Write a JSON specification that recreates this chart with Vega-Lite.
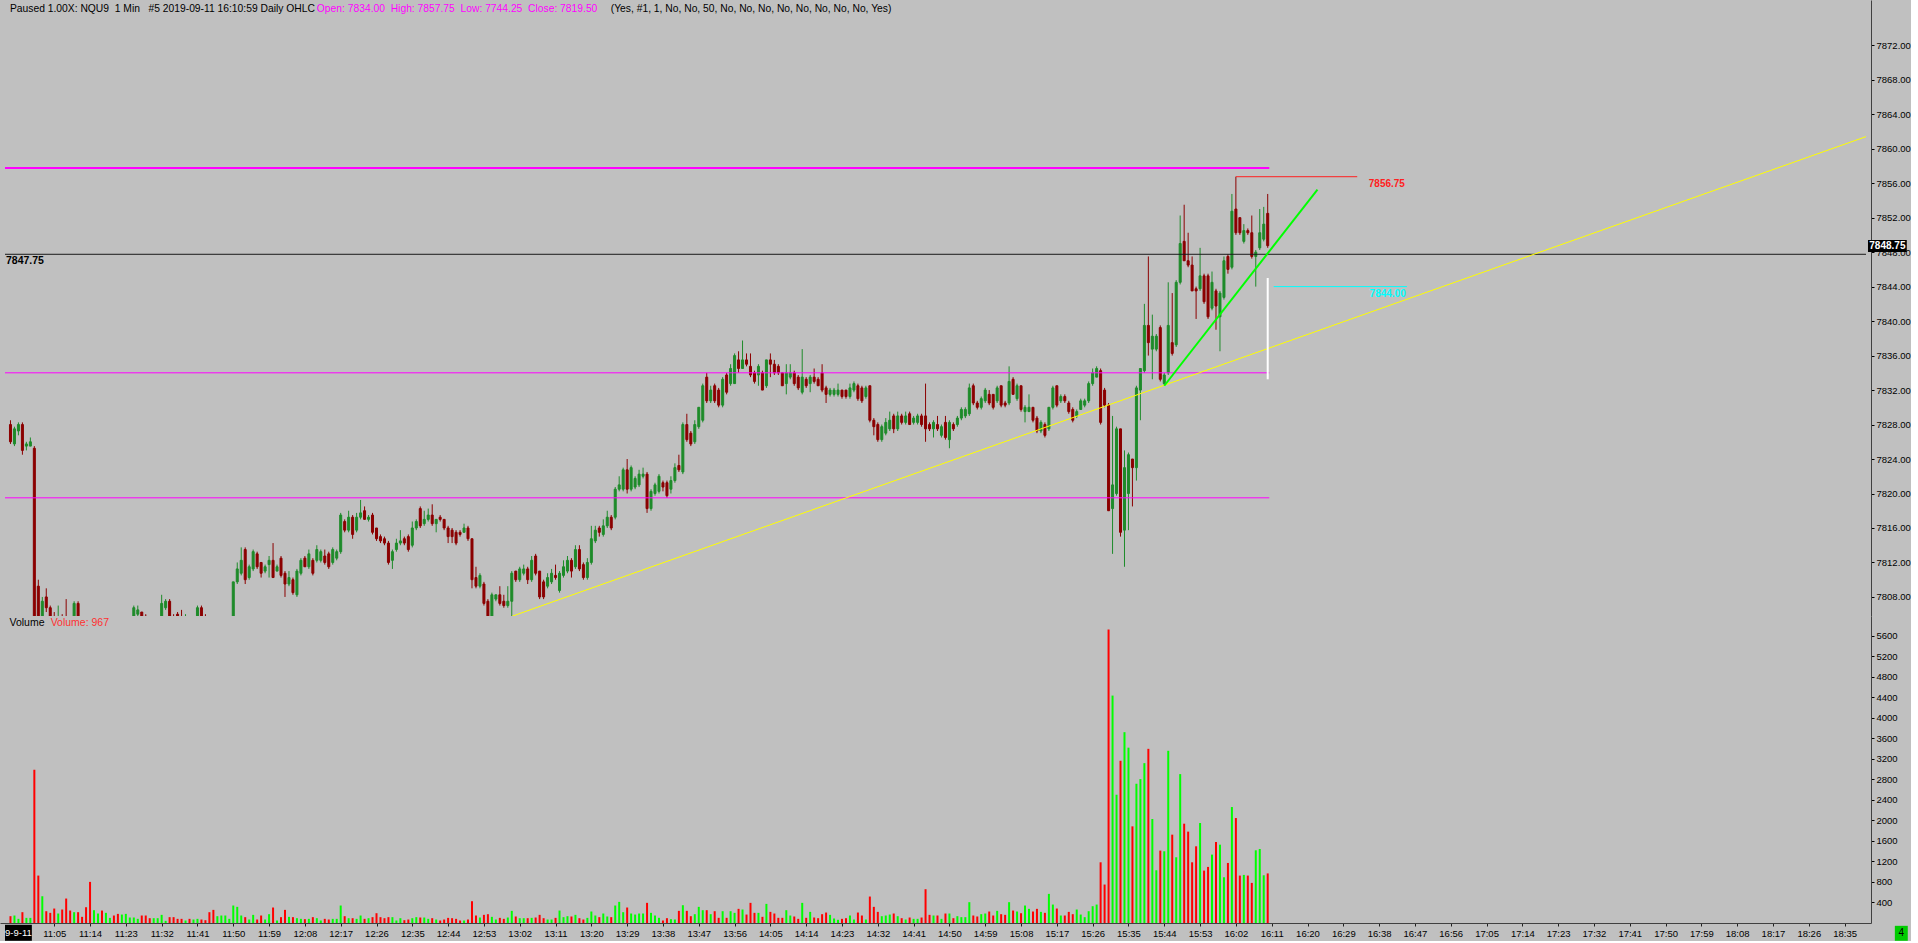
{
"$schema": "https://vega.github.io/schema/vega-lite/v6.json",
"background": "#C0C0C0",
"padding": 0,
"autosize": {"type": "pad"},
"bounds": "flush",
"spacing": 0,
"config": {"view": {"stroke": null}, "axis": {"grid": false, "title": null, "labelOverlap": false, "labelSeparation": 0}},
"datasets": {"bars": [
{"t":654,"o":7828,"h":7828.5,"l":7825.75,"c":7826,"v":133},
{"t":655,"o":7825.75,"h":7827.75,"l":7825.5,"c":7827.5,"v":146},
{"t":656,"o":7827.25,"h":7828.25,"l":7826.75,"c":7828,"v":81},
{"t":657,"o":7828,"h":7828.25,"l":7824.5,"c":7825,"v":211},
{"t":658,"o":7825.5,"h":7826,"l":7825,"c":7825.75,"v":100},
{"t":659,"o":7825.5,"h":7826.5,"l":7825.5,"c":7826,"v":100},
{"t":660,"o":7825.25,"h":7825.5,"l":7795,"c":7798,"v":2989},
{"t":661,"o":7809.25,"h":7810,"l":7797.5,"c":7799,"v":925},
{"t":662,"o":7799,"h":7808,"l":7798,"c":7807.5,"v":522},
{"t":663,"o":7808,"h":7809,"l":7806.25,"c":7806.75,"v":230},
{"t":664,"o":7806.75,"h":7807,"l":7803,"c":7804,"v":198},
{"t":665,"o":7804,"h":7806.25,"l":7801,"c":7802,"v":282},
{"t":666,"o":7802,"h":7807,"l":7801.5,"c":7804.5,"v":185},
{"t":667,"o":7804.5,"h":7806,"l":7802.5,"c":7803,"v":263},
{"t":668,"o":7805,"h":7807.75,"l":7801,"c":7801.5,"v":477},
{"t":669,"o":7802,"h":7804.5,"l":7800.5,"c":7801,"v":243},
{"t":670,"o":7801,"h":7807.5,"l":7800.75,"c":7807.25,"v":211},
{"t":671,"o":7807.25,"h":7807.5,"l":7803,"c":7803.75,"v":211},
{"t":672,"o":7803.75,"h":7804.5,"l":7801.5,"c":7802,"v":120},
{"t":673,"o":7802,"h":7803,"l":7800.5,"c":7801,"v":308},
{"t":674,"o":7801,"h":7802,"l":7798.5,"c":7799.5,"v":802},
{"t":675,"o":7799.5,"h":7802.5,"l":7799,"c":7802,"v":250},
{"t":676,"o":7802,"h":7804,"l":7801.5,"c":7803.5,"v":185},
{"t":677,"o":7803.5,"h":7804,"l":7801.5,"c":7802,"v":243},
{"t":678,"o":7802,"h":7804.5,"l":7801.75,"c":7804,"v":198},
{"t":679,"o":7804,"h":7805.25,"l":7803.5,"c":7805,"v":100},
{"t":680,"o":7805,"h":7805.5,"l":7803,"c":7803.5,"v":146},
{"t":681,"o":7803.5,"h":7804,"l":7801.5,"c":7802.25,"v":178},
{"t":682,"o":7802.25,"h":7804,"l":7802,"c":7803.75,"v":165},
{"t":683,"o":7803.75,"h":7805.25,"l":7803.5,"c":7805,"v":178},
{"t":684,"o":7805,"h":7805.75,"l":7804.5,"c":7805.5,"v":107},
{"t":685,"o":7804.75,"h":7807,"l":7804.5,"c":7806.75,"v":107},
{"t":686,"o":7806,"h":7807,"l":7805.75,"c":7806.5,"v":81},
{"t":687,"o":7806.25,"h":7806.25,"l":7804,"c":7805,"v":146},
{"t":688,"o":7805.75,"h":7806,"l":7803.5,"c":7804,"v":146},
{"t":689,"o":7804,"h":7805,"l":7802.5,"c":7803,"v":94},
{"t":690,"o":7803,"h":7805,"l":7802.75,"c":7804.5,"v":94},
{"t":691,"o":7804.5,"h":7805.75,"l":7804,"c":7805.5,"v":94},
{"t":692,"o":7805.5,"h":7808.25,"l":7805,"c":7807.25,"v":159},
{"t":693,"o":7806.75,"h":7807.75,"l":7806.5,"c":7807.5,"v":42},
{"t":694,"o":7807.5,"h":7807.75,"l":7804,"c":7804.5,"v":114},
{"t":695,"o":7804.5,"h":7806,"l":7803,"c":7803.5,"v":114},
{"t":696,"o":7806,"h":7806.25,"l":7803,"c":7804,"v":81},
{"t":697,"o":7805.5,"h":7806.5,"l":7803,"c":7803.5,"v":81},
{"t":698,"o":7803.5,"h":7806,"l":7803,"c":7805.5,"v":49},
{"t":699,"o":7805.5,"h":7805.75,"l":7803.5,"c":7804,"v":81},
{"t":700,"o":7804,"h":7805.5,"l":7803.5,"c":7805.25,"v":68},
{"t":701,"o":7805,"h":7807,"l":7804.5,"c":7806.75,"v":81},
{"t":702,"o":7806.75,"h":7807,"l":7804,"c":7804.5,"v":68},
{"t":703,"o":7805,"h":7806,"l":7803.5,"c":7804,"v":55},
{"t":704,"o":7804,"h":7805,"l":7802,"c":7802.5,"v":211},
{"t":705,"o":7802.5,"h":7803.5,"l":7800.5,"c":7801,"v":256},
{"t":706,"o":7801,"h":7803,"l":7800.5,"c":7802.5,"v":133},
{"t":707,"o":7802.5,"h":7804,"l":7802,"c":7803.5,"v":146},
{"t":708,"o":7803.5,"h":7805,"l":7803,"c":7804.5,"v":146},
{"t":709,"o":7804.5,"h":7805.5,"l":7804,"c":7805.25,"v":81},
{"t":710,"o":7805.25,"h":7809.75,"l":7804.75,"c":7809.75,"v":341},
{"t":711,"o":7809.75,"h":7812,"l":7809.5,"c":7811.25,"v":315},
{"t":712,"o":7810.75,"h":7813.75,"l":7810.5,"c":7812.25,"v":146},
{"t":713,"o":7813.5,"h":7813.75,"l":7809.5,"c":7810,"v":114},
{"t":714,"o":7810.25,"h":7811.75,"l":7810,"c":7811.5,"v":68},
{"t":715,"o":7811.25,"h":7813.5,"l":7811,"c":7813.25,"v":159},
{"t":716,"o":7813,"h":7813.25,"l":7811.25,"c":7811.5,"v":68},
{"t":717,"o":7812,"h":7812,"l":7810.25,"c":7810.75,"v":146},
{"t":718,"o":7811,"h":7811.75,"l":7810.75,"c":7811.5,"v":68},
{"t":719,"o":7811.75,"h":7812.75,"l":7810.25,"c":7812.25,"v":172},
{"t":720,"o":7812.25,"h":7814.25,"l":7810.25,"c":7810.25,"v":302},
{"t":721,"o":7811,"h":7811.75,"l":7811,"c":7811.5,"v":49},
{"t":722,"o":7812.5,"h":7812.75,"l":7810.25,"c":7810.5,"v":114},
{"t":723,"o":7810.75,"h":7811,"l":7808,"c":7809.5,"v":256},
{"t":724,"o":7809.5,"h":7811,"l":7809.25,"c":7810.25,"v":120},
{"t":725,"o":7810,"h":7810.25,"l":7808.25,"c":7808.5,"v":114},
{"t":726,"o":7808.25,"h":7811.25,"l":7808,"c":7811,"v":94},
{"t":727,"o":7810.75,"h":7812.5,"l":7810.5,"c":7812.25,"v":81},
{"t":728,"o":7812.5,"h":7812.75,"l":7811.5,"c":7811.5,"v":75},
{"t":729,"o":7811.5,"h":7813.5,"l":7811.25,"c":7813,"v":81},
{"t":730,"o":7812.25,"h":7812.5,"l":7810.5,"c":7810.75,"v":114},
{"t":731,"o":7812.25,"h":7814,"l":7812,"c":7813.5,"v":94},
{"t":732,"o":7812.25,"h":7813.5,"l":7812,"c":7813.25,"v":49},
{"t":733,"o":7812.75,"h":7813.5,"l":7811.75,"c":7812,"v":81},
{"t":734,"o":7813,"h":7813.25,"l":7811.25,"c":7811.5,"v":68},
{"t":735,"o":7812,"h":7813.75,"l":7811.75,"c":7813.5,"v":81},
{"t":736,"o":7812.5,"h":7813.5,"l":7812.25,"c":7813.25,"v":81},
{"t":737,"o":7813.25,"h":7817.75,"l":7813,"c":7817.5,"v":341},
{"t":738,"o":7816.75,"h":7817,"l":7815.5,"c":7815.75,"v":133},
{"t":739,"o":7815.75,"h":7818,"l":7815.5,"c":7817.25,"v":94},
{"t":740,"o":7817.25,"h":7817.5,"l":7814.75,"c":7815.25,"v":94},
{"t":741,"o":7815.75,"h":7817.75,"l":7815.5,"c":7817.25,"v":81},
{"t":742,"o":7817.25,"h":7819.25,"l":7817,"c":7817.75,"v":146},
{"t":743,"o":7818,"h":7818.5,"l":7817,"c":7817,"v":81},
{"t":744,"o":7817,"h":7817.5,"l":7816.75,"c":7817.25,"v":94},
{"t":745,"o":7817.5,"h":7817.75,"l":7815.25,"c":7815.5,"v":114},
{"t":746,"o":7816,"h":7816,"l":7814.5,"c":7814.75,"v":191},
{"t":747,"o":7815,"h":7815.25,"l":7814.25,"c":7814.5,"v":114},
{"t":748,"o":7814.75,"h":7815,"l":7814,"c":7814.25,"v":94},
{"t":749,"o":7814.25,"h":7814.5,"l":7811.75,"c":7812,"v":114},
{"t":750,"o":7812.25,"h":7813.5,"l":7811.25,"c":7813.25,"v":114},
{"t":751,"o":7813.5,"h":7814.75,"l":7813.25,"c":7814.25,"v":49},
{"t":752,"o":7814.25,"h":7815.75,"l":7814,"c":7814.5,"v":94},
{"t":753,"o":7814.75,"h":7815,"l":7814,"c":7814.25,"v":55},
{"t":754,"o":7815,"h":7815.25,"l":7813.25,"c":7813.5,"v":68},
{"t":755,"o":7814,"h":7816.75,"l":7813.75,"c":7816,"v":94},
{"t":756,"o":7816,"h":7817,"l":7815.75,"c":7816.75,"v":114},
{"t":757,"o":7818.25,"h":7818.5,"l":7816,"c":7816.25,"v":107},
{"t":758,"o":7816.5,"h":7818,"l":7816.25,"c":7817,"v":107},
{"t":759,"o":7817,"h":7818.25,"l":7816.75,"c":7817.5,"v":81},
{"t":760,"o":7817.5,"h":7818.75,"l":7816.25,"c":7816.5,"v":94},
{"t":761,"o":7816.5,"h":7817,"l":7815.5,"c":7817,"v":68},
{"t":762,"o":7817.25,"h":7817.5,"l":7816.75,"c":7817,"v":49},
{"t":763,"o":7817,"h":7817,"l":7815.75,"c":7816,"v":68},
{"t":764,"o":7816,"h":7816.25,"l":7814.25,"c":7815,"v":100},
{"t":765,"o":7815.75,"h":7816,"l":7814.25,"c":7815,"v":94},
{"t":766,"o":7815.5,"h":7815.75,"l":7814,"c":7814.25,"v":81},
{"t":767,"o":7815.5,"h":7815.75,"l":7815,"c":7815.25,"v":49},
{"t":768,"o":7815.5,"h":7816.5,"l":7815.5,"c":7816,"v":49},
{"t":769,"o":7816,"h":7816.25,"l":7814.5,"c":7814.75,"v":68},
{"t":770,"o":7814.75,"h":7814.75,"l":7809,"c":7810,"v":425},
{"t":771,"o":7810.25,"h":7811.5,"l":7809,"c":7809.25,"v":146},
{"t":772,"o":7809.25,"h":7810.75,"l":7809,"c":7810.5,"v":107},
{"t":773,"o":7809.5,"h":7809.75,"l":7807,"c":7807.25,"v":159},
{"t":774,"o":7807.5,"h":7807.75,"l":7805.5,"c":7805.75,"v":172},
{"t":775,"o":7805.75,"h":7808.5,"l":7805.5,"c":7808.25,"v":120},
{"t":776,"o":7807.75,"h":7808.25,"l":7807.5,"c":7808.25,"v":68},
{"t":777,"o":7808.25,"h":7809.25,"l":7807,"c":7807.25,"v":100},
{"t":778,"o":7807.5,"h":7808.25,"l":7806.75,"c":7807,"v":81},
{"t":779,"o":7807,"h":7809.25,"l":7806.75,"c":7807.5,"v":107},
{"t":780,"o":7807.5,"h":7811,"l":7805.75,"c":7810.75,"v":237},
{"t":781,"o":7811,"h":7811,"l":7809.75,"c":7810,"v":127},
{"t":782,"o":7810,"h":7811.5,"l":7809.75,"c":7811.25,"v":94},
{"t":783,"o":7810.75,"h":7811.75,"l":7810.5,"c":7811.25,"v":94},
{"t":784,"o":7811.25,"h":7811.5,"l":7809.5,"c":7810,"v":94},
{"t":785,"o":7810,"h":7812.75,"l":7809.75,"c":7812.25,"v":100},
{"t":786,"o":7812.75,"h":7813,"l":7810.5,"c":7810.75,"v":107},
{"t":787,"o":7811,"h":7811,"l":7807.75,"c":7808,"v":159},
{"t":788,"o":7809.75,"h":7810,"l":7807.75,"c":7808,"v":94},
{"t":789,"o":7809.25,"h":7810.75,"l":7809,"c":7810.25,"v":68},
{"t":790,"o":7809.75,"h":7811.25,"l":7809.5,"c":7810.75,"v":68},
{"t":791,"o":7810.5,"h":7811.75,"l":7810,"c":7810.25,"v":100},
{"t":792,"o":7808.75,"h":7811,"l":7808.5,"c":7810.75,"v":243},
{"t":793,"o":7810.5,"h":7812.25,"l":7810.25,"c":7811.5,"v":114},
{"t":794,"o":7811,"h":7812.75,"l":7810.75,"c":7812.25,"v":133},
{"t":795,"o":7812.25,"h":7812.5,"l":7810.25,"c":7811,"v":127},
{"t":796,"o":7811.5,"h":7814,"l":7811.25,"c":7813.5,"v":159},
{"t":797,"o":7813.5,"h":7814,"l":7811,"c":7811.25,"v":94},
{"t":798,"o":7811.75,"h":7812,"l":7810,"c":7810.25,"v":68},
{"t":799,"o":7810.25,"h":7812.5,"l":7810,"c":7812,"v":100},
{"t":800,"o":7812,"h":7816.25,"l":7811.75,"c":7814.75,"v":224},
{"t":801,"o":7814.5,"h":7816.25,"l":7814.25,"c":7815.75,"v":146},
{"t":802,"o":7816,"h":7816.25,"l":7815,"c":7815.5,"v":114},
{"t":803,"o":7815.25,"h":7817,"l":7815,"c":7816.25,"v":185},
{"t":804,"o":7816.25,"h":7818,"l":7816,"c":7817.25,"v":127},
{"t":805,"o":7817.25,"h":7817.5,"l":7815.75,"c":7816,"v":114},
{"t":806,"o":7817.25,"h":7820.75,"l":7817,"c":7820.5,"v":341},
{"t":807,"o":7820.5,"h":7822,"l":7820.25,"c":7821,"v":412},
{"t":808,"o":7820.5,"h":7823,"l":7820.25,"c":7822.75,"v":211},
{"t":809,"o":7822.75,"h":7824,"l":7820,"c":7820.5,"v":302},
{"t":810,"o":7820.5,"h":7823.25,"l":7820.25,"c":7823,"v":185},
{"t":811,"o":7820.75,"h":7822,"l":7820.5,"c":7821.75,"v":165},
{"t":812,"o":7821,"h":7822.75,"l":7820.75,"c":7822.25,"v":185},
{"t":813,"o":7822,"h":7823,"l":7821.75,"c":7822.25,"v":185},
{"t":814,"o":7822.25,"h":7822.5,"l":7817.75,"c":7818.25,"v":393},
{"t":815,"o":7818.25,"h":7820.5,"l":7818,"c":7820.25,"v":198},
{"t":816,"o":7820,"h":7821.25,"l":7819.75,"c":7821,"v":146},
{"t":817,"o":7820.25,"h":7822.25,"l":7820,"c":7822,"v":101},
{"t":818,"o":7821.25,"h":7821.5,"l":7820.25,"c":7820.75,"v":49},
{"t":819,"o":7821.25,"h":7821.5,"l":7819.5,"c":7819.75,"v":94},
{"t":820,"o":7820.5,"h":7822,"l":7820,"c":7821.5,"v":75},
{"t":821,"o":7821.5,"h":7823.5,"l":7821.25,"c":7823,"v":68},
{"t":822,"o":7823.25,"h":7824.5,"l":7822.5,"c":7822.75,"v":237},
{"t":823,"o":7822.5,"h":7828.25,"l":7822.25,"c":7828,"v":347},
{"t":824,"o":7828,"h":7829.25,"l":7826,"c":7826.25,"v":237},
{"t":825,"o":7827,"h":7827.25,"l":7825.5,"c":7825.75,"v":133},
{"t":826,"o":7826,"h":7828.5,"l":7825.75,"c":7828,"v":172},
{"t":827,"o":7827.75,"h":7830,"l":7827.5,"c":7830,"v":315},
{"t":828,"o":7828.5,"h":7832.75,"l":7828.25,"c":7832.5,"v":250},
{"t":829,"o":7833.5,"h":7834,"l":7830.5,"c":7830.75,"v":250},
{"t":830,"o":7830.75,"h":7832.5,"l":7830.5,"c":7832,"v":172},
{"t":831,"o":7832.5,"h":7832.75,"l":7830.5,"c":7830.75,"v":230},
{"t":832,"o":7832,"h":7832.25,"l":7830,"c":7830.25,"v":101},
{"t":833,"o":7830.25,"h":7833.5,"l":7830,"c":7833.25,"v":230},
{"t":834,"o":7833.75,"h":7834,"l":7831.5,"c":7831.75,"v":101},
{"t":835,"o":7832.75,"h":7835,"l":7832.5,"c":7834.5,"v":230},
{"t":836,"o":7832.75,"h":7836.25,"l":7832.75,"c":7836,"v":198},
{"t":837,"o":7835.5,"h":7836.5,"l":7834,"c":7834.5,"v":276},
{"t":838,"o":7834.5,"h":7837.75,"l":7834.5,"c":7835.5,"v":263},
{"t":839,"o":7835.5,"h":7836.25,"l":7834.75,"c":7835,"v":165},
{"t":840,"o":7834.75,"h":7836.25,"l":7833.5,"c":7833.75,"v":393},
{"t":841,"o":7834,"h":7834.25,"l":7832.75,"c":7833,"v":198},
{"t":842,"o":7833.75,"h":7835,"l":7832.5,"c":7834.75,"v":198},
{"t":843,"o":7834,"h":7834.25,"l":7832,"c":7832,"v":120},
{"t":844,"o":7832.5,"h":7835.5,"l":7832.25,"c":7835.5,"v":373},
{"t":845,"o":7835.5,"h":7836.25,"l":7833.5,"c":7835,"v":217},
{"t":846,"o":7835,"h":7835.5,"l":7833.75,"c":7834,"v":185},
{"t":847,"o":7834.75,"h":7835,"l":7833.75,"c":7834,"v":101},
{"t":848,"o":7834,"h":7834,"l":7832.5,"c":7832.5,"v":101},
{"t":849,"o":7832.75,"h":7835,"l":7831.5,"c":7834,"v":250},
{"t":850,"o":7833.5,"h":7835,"l":7833.25,"c":7834,"v":146},
{"t":851,"o":7834,"h":7834.25,"l":7832.5,"c":7832.75,"v":127},
{"t":852,"o":7833.5,"h":7833.75,"l":7832,"c":7832.25,"v":81},
{"t":853,"o":7831.75,"h":7836.75,"l":7831.5,"c":7833.5,"v":393},
{"t":854,"o":7833.25,"h":7833.5,"l":7832.25,"c":7832.5,"v":101},
{"t":855,"o":7832.75,"h":7833.75,"l":7831.75,"c":7833.5,"v":217},
{"t":856,"o":7833.5,"h":7834.5,"l":7832.75,"c":7833,"v":107},
{"t":857,"o":7833.25,"h":7833.5,"l":7832.5,"c":7832.5,"v":94},
{"t":858,"o":7834,"h":7835,"l":7831.75,"c":7832,"v":172},
{"t":859,"o":7832.25,"h":7832.5,"l":7830.5,"c":7831.5,"v":204},
{"t":860,"o":7831.5,"h":7832.25,"l":7831.25,"c":7832,"v":159},
{"t":861,"o":7831.5,"h":7832.25,"l":7831.25,"c":7832,"v":88},
{"t":862,"o":7831.5,"h":7832.75,"l":7831.25,"c":7832,"v":62},
{"t":863,"o":7832,"h":7832,"l":7831,"c":7831.25,"v":81},
{"t":864,"o":7832,"h":7832,"l":7831,"c":7831.25,"v":94},
{"t":865,"o":7831.25,"h":7832.75,"l":7831,"c":7832.25,"v":146},
{"t":866,"o":7832,"h":7833,"l":7831.75,"c":7832.75,"v":68},
{"t":867,"o":7832.5,"h":7832.75,"l":7830.75,"c":7831,"v":204},
{"t":868,"o":7832.25,"h":7832.5,"l":7830.5,"c":7830.75,"v":146},
{"t":869,"o":7831.25,"h":7832.5,"l":7831,"c":7832.25,"v":68},
{"t":870,"o":7832.5,"h":7832.5,"l":7828.25,"c":7828.5,"v":516},
{"t":871,"o":7828.5,"h":7828.75,"l":7826.75,"c":7827.75,"v":315},
{"t":872,"o":7828,"h":7828.25,"l":7826,"c":7826.25,"v":217},
{"t":873,"o":7826.25,"h":7828,"l":7826,"c":7827.75,"v":133},
{"t":874,"o":7827,"h":7828.75,"l":7826.75,"c":7828.25,"v":146},
{"t":875,"o":7827.5,"h":7829.5,"l":7827.25,"c":7828.5,"v":165},
{"t":876,"o":7829,"h":7829.25,"l":7827,"c":7827.5,"v":185},
{"t":877,"o":7827.5,"h":7829.5,"l":7827.25,"c":7829,"v":133},
{"t":878,"o":7829,"h":7829.25,"l":7828,"c":7828.25,"v":94},
{"t":879,"o":7828.25,"h":7829.5,"l":7828,"c":7829,"v":68},
{"t":880,"o":7829.25,"h":7829.5,"l":7828,"c":7828,"v":107},
{"t":881,"o":7828.25,"h":7829,"l":7828,"c":7828.75,"v":81},
{"t":882,"o":7828.25,"h":7829.25,"l":7828,"c":7829,"v":81},
{"t":883,"o":7829,"h":7829.25,"l":7827.75,"c":7828,"v":107},
{"t":884,"o":7829,"h":7832.75,"l":7826,"c":7827.5,"v":659},
{"t":885,"o":7828,"h":7828.25,"l":7827.25,"c":7827.5,"v":159},
{"t":886,"o":7827.5,"h":7828.5,"l":7826.5,"c":7828.25,"v":146},
{"t":887,"o":7828,"h":7829,"l":7827.25,"c":7827.5,"v":146},
{"t":888,"o":7826.75,"h":7828,"l":7826.5,"c":7827.75,"v":81},
{"t":889,"o":7828.25,"h":7829,"l":7826.25,"c":7826.5,"v":185},
{"t":890,"o":7826.25,"h":7828.5,"l":7825.25,"c":7828.25,"v":185},
{"t":891,"o":7828,"h":7828.25,"l":7827.25,"c":7827.5,"v":94},
{"t":892,"o":7828,"h":7829,"l":7827.75,"c":7828.75,"v":133},
{"t":893,"o":7828.75,"h":7830,"l":7828.5,"c":7829.75,"v":114},
{"t":894,"o":7829,"h":7830,"l":7828.75,"c":7829.75,"v":114},
{"t":895,"o":7829.25,"h":7832.75,"l":7829,"c":7832.25,"v":406},
{"t":896,"o":7832.5,"h":7832.75,"l":7830.25,"c":7830.5,"v":146},
{"t":897,"o":7830.5,"h":7830.75,"l":7829.75,"c":7830,"v":127},
{"t":898,"o":7830,"h":7831.25,"l":7829.75,"c":7831,"v":172},
{"t":899,"o":7830.75,"h":7832.25,"l":7830.5,"c":7832,"v":185},
{"t":900,"o":7831.5,"h":7832,"l":7830.25,"c":7830.5,"v":224},
{"t":901,"o":7831.5,"h":7831.5,"l":7829.75,"c":7830,"v":146},
{"t":902,"o":7830.75,"h":7832.5,"l":7830.5,"c":7832.25,"v":237},
{"t":903,"o":7832.5,"h":7832.5,"l":7830,"c":7830.25,"v":172},
{"t":904,"o":7830.5,"h":7830.75,"l":7830,"c":7830.25,"v":159},
{"t":905,"o":7830.5,"h":7834.75,"l":7830.25,"c":7833,"v":406},
{"t":906,"o":7833.25,"h":7833.5,"l":7831.5,"c":7831.5,"v":243},
{"t":907,"o":7831,"h":7832.75,"l":7830.75,"c":7832.5,"v":224},
{"t":908,"o":7832.5,"h":7832.5,"l":7829.5,"c":7829.75,"v":191},
{"t":909,"o":7829.5,"h":7830.25,"l":7828.25,"c":7830,"v":341},
{"t":910,"o":7829.5,"h":7831.5,"l":7829.5,"c":7830,"v":276},
{"t":911,"o":7830,"h":7830,"l":7828.25,"c":7828.5,"v":224},
{"t":912,"o":7828.75,"h":7829,"l":7827,"c":7827.25,"v":276},
{"t":913,"o":7827.25,"h":7828.5,"l":7827,"c":7828.25,"v":217},
{"t":914,"o":7828,"h":7828.25,"l":7826.5,"c":7826.75,"v":198},
{"t":915,"o":7827.5,"h":7830,"l":7827.25,"c":7830,"v":568},
{"t":916,"o":7830,"h":7832.5,"l":7829.75,"c":7832.25,"v":360},
{"t":917,"o":7832.5,"h":7832.5,"l":7830,"c":7830.25,"v":282},
{"t":918,"o":7830.75,"h":7831.5,"l":7830.5,"c":7831.25,"v":146},
{"t":919,"o":7831.25,"h":7831.5,"l":7830.5,"c":7830.75,"v":146},
{"t":920,"o":7830.5,"h":7830.75,"l":7829.25,"c":7829.5,"v":217},
{"t":921,"o":7829.75,"h":7830,"l":7828.25,"c":7828.5,"v":172},
{"t":922,"o":7829,"h":7829.75,"l":7828.75,"c":7829.5,"v":263},
{"t":923,"o":7829.75,"h":7831,"l":7829.75,"c":7830.75,"v":165},
{"t":924,"o":7830.25,"h":7831,"l":7830,"c":7830.75,"v":114},
{"t":925,"o":7830.75,"h":7833,"l":7830.5,"c":7832.75,"v":230},
{"t":926,"o":7832.75,"h":7834.5,"l":7832.5,"c":7834,"v":328},
{"t":927,"o":7833.5,"h":7834.75,"l":7833.5,"c":7834.5,"v":360},
{"t":928,"o":7834.25,"h":7834.5,"l":7828,"c":7828.25,"v":1184},
{"t":929,"o":7832,"h":7832.25,"l":7830,"c":7830.25,"v":750},
{"t":930,"o":7830.25,"h":7830.5,"l":7818,"c":7818,"v":5727},
{"t":931,"o":7818.25,"h":7829,"l":7813,"c":7821,"v":4436},
{"t":932,"o":7820,"h":7827.75,"l":7819.75,"c":7827.5,"v":2502},
{"t":933,"o":7827.5,"h":7827.5,"l":7815,"c":7815.5,"v":3164},
{"t":934,"o":7815.75,"h":7825,"l":7811.5,"c":7823,"v":3722},
{"t":935,"o":7820,"h":7824.75,"l":7815.75,"c":7824.5,"v":3420},
{"t":936,"o":7824,"h":7824,"l":7818.5,"c":7823,"v":1885},
{"t":937,"o":7823,"h":7832.5,"l":7821.5,"c":7832.25,"v":2716},
{"t":938,"o":7832,"h":7834.5,"l":7828.5,"c":7834.5,"v":2807},
{"t":939,"o":7834.25,"h":7842,"l":7834,"c":7839.5,"v":3118},
{"t":940,"o":7839.5,"h":7847.5,"l":7836,"c":7837.5,"v":3397},
{"t":941,"o":7836.75,"h":7840.75,"l":7833.25,"c":7838.25,"v":2028},
{"t":942,"o":7836.75,"h":7838.5,"l":7836.5,"c":7838.25,"v":1029},
{"t":943,"o":7839.25,"h":7839.5,"l":7833,"c":7833.25,"v":1412},
{"t":944,"o":7832.75,"h":7834,"l":7832.5,"c":7833.75,"v":1399},
{"t":945,"o":7834,"h":7844.5,"l":7833.75,"c":7839.5,"v":3359},
{"t":946,"o":7837.5,"h":7843.25,"l":7836,"c":7836.25,"v":1723},
{"t":947,"o":7837.25,"h":7844.75,"l":7837,"c":7844.5,"v":1282},
{"t":948,"o":7844.5,"h":7852.25,"l":7844.25,"c":7849,"v":2904},
{"t":949,"o":7849.25,"h":7853.5,"l":7847,"c":7847,"v":1937},
{"t":950,"o":7847,"h":7850.25,"l":7846.25,"c":7846.5,"v":1782},
{"t":951,"o":7846.5,"h":7847.5,"l":7843.5,"c":7843.5,"v":1184},
{"t":952,"o":7843.75,"h":7844,"l":7840.25,"c":7843.5,"v":1496},
{"t":953,"o":7843.75,"h":7848.5,"l":7843.5,"c":7845.25,"v":1950},
{"t":954,"o":7845.25,"h":7845.5,"l":7842,"c":7842.25,"v":1022},
{"t":955,"o":7845.25,"h":7845.5,"l":7840.25,"c":7840.5,"v":1094},
{"t":956,"o":7841.5,"h":7845.75,"l":7841.25,"c":7844.5,"v":1334},
{"t":957,"o":7843.5,"h":7843.75,"l":7839,"c":7841.75,"v":1580},
{"t":958,"o":7840.5,"h":7843.5,"l":7836.5,"c":7843.25,"v":1528},
{"t":959,"o":7842.75,"h":7847.5,"l":7842.5,"c":7847,"v":892},
{"t":960,"o":7847.5,"h":7847.75,"l":7845.5,"c":7846,"v":1171},
{"t":961,"o":7846.25,"h":7854.75,"l":7846,"c":7852.75,"v":2262},
{"t":962,"o":7853,"h":7856.75,"l":7850,"c":7850.25,"v":2047},
{"t":963,"o":7852,"h":7852,"l":7850,"c":7850.25,"v":925},
{"t":964,"o":7849.25,"h":7851.25,"l":7849,"c":7850.5,"v":938},
{"t":965,"o":7850.5,"h":7850.75,"l":7850,"c":7850.25,"v":925},
{"t":966,"o":7850.25,"h":7852.25,"l":7847.25,"c":7847.5,"v":782},
{"t":967,"o":7847.5,"h":7848.25,"l":7844,"c":7848,"v":1418},
{"t":968,"o":7848.5,"h":7853,"l":7848.25,"c":7850.25,"v":1444},
{"t":969,"o":7849.5,"h":7853.25,"l":7849.25,"c":7851.25,"v":931},
{"t":970,"o":7852.5,"h":7854.75,"l":7848.5,"c":7848.75,"v":967}
]},
"vconcat": [
{
"width": 1871, "height": 616,
"layer": [
{"data": {"name": "bars"}, "mark": {"type": "rule", "clip": true, "strokeWidth": 1},
 "encoding": {
  "x": {"field": "t", "type": "quantitative", "scale": {"domain": [652.625, 1120.375], "nice": false, "zero": false}, "axis": null},
  "y": {"field": "l", "type": "quantitative", "title": null, "scale": {"domain": [7805.79, 7877.25], "nice": false, "zero": false},
        "axis": {"orient": "right", "values": [7808,7812,7816,7820,7824,7828,7832,7836,7840,7844,7848,7852,7856,7860,7864,7868,7872], "tickCount": 200, "format": ".2f", "labelFont": "Liberation Sans", "labelFontSize": 9.5, "labelColor": "#000000", "tickColor": "#000000", "tickSize": 3, "labelPadding": 2, "domainColor": "#404040", "labelOverlap": false, "labelFlush": false, "labelBound": false}},
  "y2": {"field": "h"},
  "color": {"condition": {"test": "datum.c < datum.o", "value": "#8B0000"}, "value": "#1E8B2A"}
 }},
{"data": {"name": "bars"}, "mark": {"type": "bar", "clip": true, "width": 2, "strokeWidth": 1},
 "encoding": {
  "x": {"field": "t", "type": "quantitative", "axis": null},
  "y": {"field": "o", "type": "quantitative", "title": null},
  "y2": {"field": "c"},
  "color": {"condition": {"test": "datum.c < datum.o", "value": "#8B0000"}, "value": "#1E8B2A"},
  "stroke": {"condition": {"test": "datum.c < datum.o", "value": "#8B0000"}, "value": "#1E8B2A"}
 }},
{"data": {"values": [{"t1": 652.625, "t2": 970.4, "p": 7834}, {"t1": 652.625, "t2": 970.4, "p": 7819.5}]},
 "mark": {"type": "rule", "color": "#FF00FF", "strokeWidth": 1},
 "encoding": {"x": {"field": "t1", "type": "quantitative", "axis": null}, "x2": {"field": "t2"}, "y": {"field": "p", "type": "quantitative", "title": null}}},
{"data": {"values": [{"t1": 652.625, "t2": 970.4, "p": 7857.75}]},
 "mark": {"type": "rule", "color": "#FF00FF", "strokeWidth": 2},
 "encoding": {"x": {"field": "t1", "type": "quantitative", "axis": null}, "x2": {"field": "t2"}, "y": {"field": "p", "type": "quantitative", "title": null}}},
{"data": {"values": [{"t1": 652.625, "t2": 1120.375, "p": 7847.75}]},
 "mark": {"type": "rule", "color": "#1A1A1A", "strokeWidth": 1},
 "encoding": {"x": {"field": "t1", "type": "quantitative", "axis": null}, "x2": {"field": "t2"}, "y": {"field": "p", "type": "quantitative", "title": null}}},
{"data": {"values": [{"t1": 780, "p1": 7805.75, "t2": 1120.375, "p2": 7861.4}]},
 "mark": {"type": "rule", "color": "#FFFF00", "strokeWidth": 1, "clip": true},
 "encoding": {"x": {"field": "t1", "type": "quantitative", "axis": null}, "x2": {"field": "t2"}, "y": {"field": "p1", "type": "quantitative", "title": null}, "y2": {"field": "p2"}}},
{"data": {"values": [{"t1": 944, "p1": 7832.5, "t2": 982.5, "p2": 7855.25}]},
 "mark": {"type": "rule", "color": "#00FF00", "strokeWidth": 2},
 "encoding": {"x": {"field": "t1", "type": "quantitative", "axis": null}, "x2": {"field": "t2"}, "y": {"field": "p1", "type": "quantitative", "title": null}, "y2": {"field": "p2"}}},
{"data": {"values": [{"t1": 962, "t2": 992.5, "p": 7856.75}]},
 "mark": {"type": "rule", "color": "#FF2020", "strokeWidth": 1},
 "encoding": {"x": {"field": "t1", "type": "quantitative", "axis": null}, "x2": {"field": "t2"}, "y": {"field": "p", "type": "quantitative", "title": null}}},
{"data": {"values": [{"t1": 971.5, "t2": 1005, "p": 7844}]},
 "mark": {"type": "rule", "color": "#00FFFF", "strokeWidth": 1},
 "encoding": {"x": {"field": "t1", "type": "quantitative", "axis": null}, "x2": {"field": "t2"}, "y": {"field": "p", "type": "quantitative", "title": null}}},
{"data": {"values": [{"t": 970, "p1": 7833.25, "p2": 7845}]},
 "mark": {"type": "rule", "color": "#FFFFFF", "strokeWidth": 2},
 "encoding": {"x": {"field": "t", "type": "quantitative", "axis": null}, "y": {"field": "p1", "type": "quantitative", "title": null}, "y2": {"field": "p2"}}},
{"data": {"values": [{"t": 995.4, "p": 7856.75, "label": "7856.75"}]},
 "mark": {"type": "text", "align": "left", "baseline": "middle", "dy": 7, "font": "Liberation Sans", "fontSize": 10, "fontWeight": "bold", "color": "#FF2020"},
 "encoding": {"x": {"field": "t", "type": "quantitative", "axis": null}, "y": {"field": "p", "type": "quantitative", "title": null}, "text": {"field": "label"}}},
{"data": {"values": [{"t": 995.6, "p": 7844, "label": "7844.00"}]},
 "mark": {"type": "text", "align": "left", "baseline": "middle", "dy": 7, "font": "Liberation Sans", "fontSize": 10, "fontWeight": "bold", "color": "#00FFFF"},
 "encoding": {"x": {"field": "t", "type": "quantitative", "axis": null}, "y": {"field": "p", "type": "quantitative", "title": null}, "text": {"field": "label"}}},
{"data": {"values": [{"t": 652.875, "p": 7847.75, "label": "7847.75"}]},
 "mark": {"type": "text", "align": "left", "baseline": "middle", "dy": 7, "font": "Liberation Sans", "fontSize": 10.5, "fontWeight": "bold", "color": "#000000"},
 "encoding": {"x": {"field": "t", "type": "quantitative", "axis": null}, "y": {"field": "p", "type": "quantitative", "title": null}, "text": {"field": "label"}}},
{"data": {"values": [{"t": 653.875, "p": 7876.25, "label": "Paused 1.00X: NQU9\u00a0\u00a01 Min\u00a0\u00a0\u00a0#5 2019-09-11 16:10:59 Daily OHLC"}, {"t": 804.875, "p": 7876.25, "label": "(Yes, #1, 1, No, No, 50, No, No, No, No, No, No, No, No, Yes)"}]},
 "mark": {"type": "text", "align": "left", "baseline": "middle", "font": "Liberation Sans", "fontSize": 10.3, "color": "#000000"},
 "encoding": {"x": {"field": "t", "type": "quantitative", "axis": null}, "y": {"field": "p", "type": "quantitative", "title": null}, "text": {"field": "label"}}},
{"data": {"values": [{"t": 731.0, "p": 7876.25, "label": "Open: 7834.00\u00a0\u00a0High: 7857.75\u00a0\u00a0Low: 7744.25\u00a0\u00a0Close: 7819.50"}]},
 "mark": {"type": "text", "align": "left", "baseline": "middle", "font": "Liberation Sans", "fontSize": 10.3, "color": "#FF00FF"},
 "encoding": {"x": {"field": "t", "type": "quantitative", "axis": null}, "y": {"field": "p", "type": "quantitative", "title": null}, "text": {"field": "label"}}},
{"data": {"values": [{"t1": 1120.875, "t2": 1130.625, "p1": 7848.02, "p2": 7849.41}]},
 "mark": {"type": "rect", "color": "#000000"},
 "encoding": {"x": {"field": "t1", "type": "quantitative", "axis": null}, "x2": {"field": "t2"}, "y": {"field": "p1", "type": "quantitative", "title": null}, "y2": {"field": "p2"}}},
{"data": {"values": [{"t": 1125.75, "p": 7848.72, "label": "7848.75"}]},
 "mark": {"type": "text", "align": "center", "baseline": "middle", "font": "Liberation Sans", "fontSize": 10, "fontWeight": "bold", "color": "#FFFFFF"},
 "encoding": {"x": {"field": "t", "type": "quantitative", "axis": null}, "y": {"field": "p", "type": "quantitative", "title": null}, "text": {"field": "label"}}}
]
},
{
"width": 1871, "height": 307,
"layer": [
{"data": {"name": "bars"}, "mark": {"type": "bar", "width": 2},
 "encoding": {
  "x": {"field": "t", "type": "quantitative", "title": null, "scale": {"domain": [652.625, 1120.375], "nice": false, "zero": false},
        "axis": {"orient": "bottom", "values": [665,674,683,692,701,710,719,728,737,746,755,764,773,782,791,800,809,818,827,836,845,854,863,872,881,890,899,908,917,926,935,944,953,962,971,980,989,998,1007,1016,1025,1034,1043,1052,1061,1070,1079,1088,1097,1106,1115], "tickCount": 500,
                 "labelExpr": "floor(datum.value/60) + ':' + (datum.value % 60 < 10 ? '0' : '') + (datum.value % 60)",
                 "labelFont": "Liberation Sans", "labelFontSize": 9.5, "labelColor": "#000000", "tickColor": "#202020", "tickSize": 3, "labelPadding": 2, "domainColor": "#404040", "labelOverlap": false, "labelFlush": false, "labelBound": false}},
  "y": {"field": "v", "type": "quantitative", "title": null, "scale": {"domain": [0, 5988], "nice": false, "zero": false},
        "axis": {"orient": "right", "values": [400,800,1200,1600,2000,2400,2800,3200,3600,4000,4400,4800,5200,5600], "tickCount": 200, "format": "d", "labelFont": "Liberation Sans", "labelFontSize": 9.5, "labelColor": "#000000", "tickColor": "#000000", "tickSize": 3, "labelPadding": 2, "domainColor": "#404040", "labelOverlap": false, "labelFlush": false, "labelBound": false}},
  "color": {"condition": {"test": "datum.c < datum.o", "value": "#FF0000"}, "value": "#00FF00"}
 }},
{"data": {"values": [{"t": 653.75, "v": 5855, "label": "Volume"}]},
 "mark": {"type": "text", "align": "left", "baseline": "middle", "font": "Liberation Sans", "fontSize": 10.5, "color": "#000000"},
 "encoding": {"x": {"field": "t", "type": "quantitative", "title": null}, "y": {"field": "v", "type": "quantitative", "title": null}, "text": {"field": "label"}}},
{"data": {"values": [{"t": 664.1, "v": 5855, "label": "Volume: 967"}]},
 "mark": {"type": "text", "align": "left", "baseline": "middle", "font": "Liberation Sans", "fontSize": 10.5, "color": "#FF3030"},
 "encoding": {"x": {"field": "t", "type": "quantitative", "title": null}, "y": {"field": "v", "type": "quantitative", "title": null}, "text": {"field": "label"}}},
{"data": {"values": [{"t1": 652.625, "t2": 659.375, "v1": -35, "v2": -347}]},
 "mark": {"type": "rect", "color": "#000000"},
 "encoding": {"x": {"field": "t1", "type": "quantitative", "title": null}, "x2": {"field": "t2"}, "y": {"field": "v1", "type": "quantitative", "title": null}, "y2": {"field": "v2"}}},
{"data": {"values": [{"t": 656, "v": -191, "label": "9-9-11"}]},
 "mark": {"type": "text", "align": "center", "baseline": "middle", "font": "Liberation Sans", "fontSize": 9.5, "color": "#FFFFFF"},
 "encoding": {"x": {"field": "t", "type": "quantitative", "title": null}, "y": {"field": "v", "type": "quantitative", "title": null}, "text": {"field": "label"}}},
{"data": {"values": [{"t1": 1127.625, "t2": 1130.875, "v1": -55, "v2": -347}]},
 "mark": {"type": "rect", "color": "#00CC00"},
 "encoding": {"x": {"field": "t1", "type": "quantitative", "title": null}, "x2": {"field": "t2"}, "y": {"field": "v1", "type": "quantitative", "title": null}, "y2": {"field": "v2"}}},
{"data": {"values": [{"t": 1129.25, "v": -201, "label": "4"}]},
 "mark": {"type": "text", "align": "center", "baseline": "middle", "font": "Liberation Sans", "fontSize": 10, "color": "#000000"},
 "encoding": {"x": {"field": "t", "type": "quantitative", "title": null}, "y": {"field": "v", "type": "quantitative", "title": null}, "text": {"field": "label"}}}
]
}
]
}
